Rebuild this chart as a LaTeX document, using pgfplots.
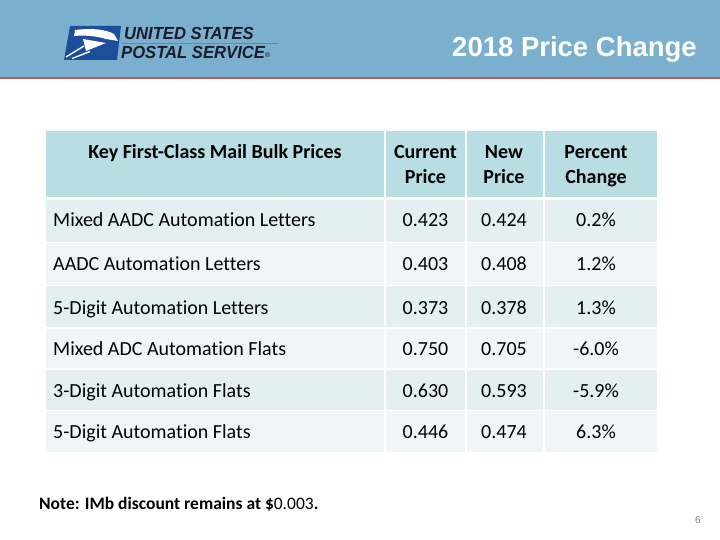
\documentclass[border=0pt]{standalone}
\usepackage{pgfplots}
\pgfplotsset{compat=1.18}
\usepackage{pgfplotstable}
\usepackage{fontspec}
\setmainfont[Ligatures=NoCommon]{Carlito}
\newfontfamily\arialfont{Liberation Sans}
\definecolor{banner}{HTML}{7AAFCD}
\definecolor{redline}{HTML}{C45A5A}
\definecolor{hdr}{HTML}{B8DDE3}
\definecolor{rowA}{HTML}{E3EFF1}
\definecolor{rowB}{HTML}{F0F6F7}
\definecolor{uspsblue}{HTML}{1D4E9B}
\definecolor{logotext}{HTML}{1C1C2A}
\definecolor{mauve}{HTML}{A8707E}
\newcommand\dfont{\fontsize{20bp}{24bp}\selectfont}
\newcommand\cellrow[3]{%
  \fill[#3] (46,#1) rectangle (384,#2);
  \fill[#3] (386,#1) rectangle (465,#2);
  \fill[#3] (467,#1) rectangle (543,#2);
  \fill[#3] (545,#1) rectangle (657,#2);}
\pgfplotstableread[col sep=comma]{
y,name,cur,new,pct
227,Mixed AADC Automation Letters,0.423,0.424,0.2
271,AADC Automation Letters,0.403,0.408,1.2
314,5-Digit Automation Letters,0.373,0.378,1.3
355,Mixed ADC Automation Flats,0.750,0.705,-6.0
397,3-Digit Automation Flats,0.630,0.593,-5.9
438,5-Digit Automation Flats,0.446,0.474,6.3
}\prices
\begin{document}
\begin{tikzpicture}
\begin{axis}[width=720bp,height=540bp,scale only axis,
  xmin=0,xmax=720,ymin=0,ymax=540,y dir=reverse,hide axis,clip=false,
  every node near coord/.style={inner sep=0pt,font=\dfont,text=black}]
% background
\fill[white] (0,0) rectangle (720,540);
\fill[banner] (0,0) rectangle (720,77);
\fill[redline] (0,77) rectangle (720,79.5);
% logo
\fill[uspsblue] (70,26) -- (121,26) -- (117,60) -- (64,60) -- cycle;
\fill[white] (75,30) .. controls (90,28) and (105,29) .. (114,34) -- (118,41) -- (106,39) .. controls (96,36) and (85,35) .. (74,36) -- cycle;
\fill[white] (83,39) -- (106,43) -- (86,51) -- cycle;
\draw[white,line width=1.4bp] (66,57) -- (84,46);
\draw[white,line width=1.4bp] (72,58.5) -- (90,51.5);
\node[anchor=base west,inner sep=0pt,text=logotext,xscale=0.95,font=\arialfont\bfseries\itshape\fontsize{17.5bp}{19bp}\selectfont] at (124,40) {UNITED STATES};
\node[anchor=base west,inner sep=0pt,text=logotext,xscale=0.95,font=\arialfont\bfseries\itshape\fontsize{17.5bp}{19bp}\selectfont] at (121,59) {POSTAL SERVICE};
\node[anchor=base west,inner sep=0pt,text=logotext,font=\arialfont\fontsize{7bp}{8bp}\selectfont] at (265,58) {®};
\draw[mauve,line width=0.8bp] (122,43.5) -- (278,43.5);
% title
\node[anchor=base east,inner sep=0pt,text=white,font=\arialfont\bfseries\fontsize{27.5bp}{30bp}\selectfont] at (697,57) {2018 Price Change};
% table backgrounds
\cellrow{131}{197}{hdr}
\cellrow{200}{242}{rowA}
\cellrow{243.5}{284.5}{rowB}
\cellrow{286}{327}{rowA}
\cellrow{329}{368}{rowB}
\cellrow{369.5}{409.5}{rowA}
\cellrow{411}{452}{rowB}
% header text
\node[anchor=base,inner sep=0pt,font=\dfont\bfseries] at (215,159) {Key First-Class Mail Bulk Prices};
\node[anchor=base,inner sep=0pt,font=\dfont\bfseries] at (425.5,159) {Current};
\node[anchor=base,inner sep=0pt,font=\dfont\bfseries] at (425.5,183.5) {Price};
\node[anchor=base,inner sep=0pt,font=\dfont\bfseries] at (504,159) {New};
\node[anchor=base,inner sep=0pt,font=\dfont\bfseries] at (504,183.5) {Price};
\node[anchor=base,inner sep=0pt,font=\dfont\bfseries] at (596,159) {Percent};
\node[anchor=base,inner sep=0pt,font=\dfont\bfseries] at (596,183.5) {Change};
% data
\addplot[draw=none,mark=none,point meta=explicit symbolic,nodes near coords,
  every node near coord/.append style={anchor=base west}]
  table[x expr=53,y=y,meta=name]{\prices};
\addplot[draw=none,mark=none,point meta=explicit symbolic,nodes near coords,
  every node near coord/.append style={anchor=base}]
  table[x expr=425.5,y=y,meta=cur]{\prices};
\addplot[draw=none,mark=none,point meta=explicit symbolic,nodes near coords,
  every node near coord/.append style={anchor=base}]
  table[x expr=504,y=y,meta=new]{\prices};
\addplot[draw=none,mark=none,point meta=explicit symbolic,nodes near coords={\pgfplotspointmeta\%},
  every node near coord/.append style={anchor=base}]
  table[x expr=596,y=y,meta=pct]{\prices};
% note and page number
\node[anchor=base west,inner sep=0pt,font=\fontsize{17.5bp}{20bp}\selectfont] at (39,509) {\textbf{Note: IMb discount remains at \$}0.003\textbf{.}};
\node[anchor=base east,inner sep=0pt,text=gray,font=\arialfont\fontsize{10bp}{12bp}\selectfont] at (701,523) {6};
\end{axis}
\end{tikzpicture}
\end{document}
